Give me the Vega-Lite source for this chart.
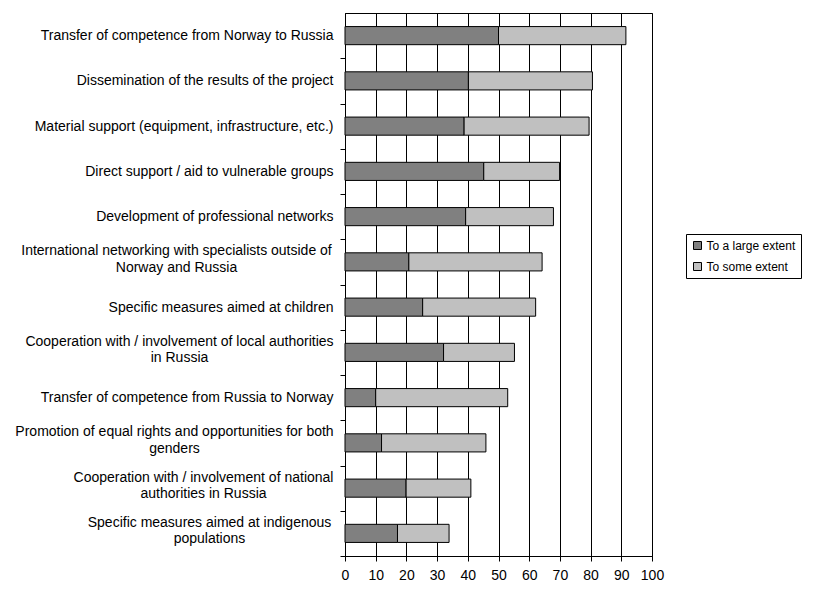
{
  "$schema": "https://vega.github.io/schema/vega-lite/v6.json",
  "width": 307,
  "height": 543,
  "autosize": {"type": "none"},
  "padding": {"left": 345, "top": 13, "right": 172, "bottom": 56},
  "background": "white",
  "data": {
    "values": [
      {"item": "Transfer of competence from Norway to Russia", "level": "To a large extent", "pct": 50.0},
      {"item": "Transfer of competence from Norway to Russia", "level": "To some extent", "pct": 41.5},
      {"item": "Dissemination of the results of the project", "level": "To a large extent", "pct": 40.2},
      {"item": "Dissemination of the results of the project", "level": "To some extent", "pct": 40.4},
      {"item": "Material support (equipment, infrastructure, etc.)", "level": "To a large extent", "pct": 38.8},
      {"item": "Material support (equipment, infrastructure, etc.)", "level": "To some extent", "pct": 40.7},
      {"item": "Direct support / aid to vulnerable groups", "level": "To a large extent", "pct": 45.2},
      {"item": "Direct support / aid to vulnerable groups", "level": "To some extent", "pct": 24.7},
      {"item": "Development of professional networks", "level": "To a large extent", "pct": 39.3},
      {"item": "Development of professional networks", "level": "To some extent", "pct": 28.6},
      {"item": "International networking with specialists outside of\nNorway and Russia", "level": "To a large extent", "pct": 20.8},
      {"item": "International networking with specialists outside of\nNorway and Russia", "level": "To some extent", "pct": 43.4},
      {"item": "Specific measures aimed at children", "level": "To a large extent", "pct": 25.3},
      {"item": "Specific measures aimed at children", "level": "To some extent", "pct": 36.8},
      {"item": "Cooperation with / involvement of local authorities\nin Russia", "level": "To a large extent", "pct": 32.1},
      {"item": "Cooperation with / involvement of local authorities\nin Russia", "level": "To some extent", "pct": 23.1},
      {"item": "Transfer of competence from Russia to Norway", "level": "To a large extent", "pct": 10.0},
      {"item": "Transfer of competence from Russia to Norway", "level": "To some extent", "pct": 43.0},
      {"item": "Promotion of equal rights and opportunities for both\ngenders", "level": "To a large extent", "pct": 11.9},
      {"item": "Promotion of equal rights and opportunities for both\ngenders", "level": "To some extent", "pct": 34.0},
      {"item": "Cooperation with / involvement of national\nauthorities in Russia", "level": "To a large extent", "pct": 19.9},
      {"item": "Cooperation with / involvement of national\nauthorities in Russia", "level": "To some extent", "pct": 21.1},
      {"item": "Specific measures aimed at indigenous\npopulations", "level": "To a large extent", "pct": 17.1},
      {"item": "Specific measures aimed at indigenous\npopulations", "level": "To some extent", "pct": 16.8}
    ]
  },
  "mark": {"type": "bar", "stroke": "black", "strokeWidth": 1},
  "encoding": {
    "y": {
      "field": "item",
      "type": "nominal",
      "sort": null,
      "scale": {"paddingInner": 0.6, "paddingOuter": 0.3},
      "axis": {
        "title": null,
        "labelExpr": "isString(datum.label) ? split(datum.label, '\\n') : ''",
        "labelFont": "Liberation Sans",
        "labelFontSize": 14,
        "labelColor": "black",
        "labelLimit": 500,
        "labelLineHeight": 16.5,
        "labelAlign": {
          "condition": {"test": "isString(datum.value) && indexof(datum.value, '\\n') >= 0", "value": "center"},
          "value": "right"
        },
        "labelPadding": {
          "condition": [
            {"test": "isString(datum.value) && indexof(datum.value, 'International') === 0", "value": 164},
            {"test": "isString(datum.value) && indexof(datum.value, 'Cooperation with / involvement of local') === 0", "value": 161},
            {"test": "isString(datum.value) && indexof(datum.value, 'Promotion') === 0", "value": 166},
            {"test": "isString(datum.value) && indexof(datum.value, 'Cooperation with / involvement of national') === 0", "value": 137},
            {"test": "isString(datum.value) && indexof(datum.value, 'Specific measures aimed at indigenous') === 0", "value": 131}
          ],
          "value": 7
        },
        "labelOffset": {
          "condition": {"test": "isString(datum.value) && indexof(datum.value, '\\n') >= 0", "value": -24.6},
          "value": -13.6
        },
        "bandPosition": 1,
        "tickOffset": 13.6,
        "tickSize": 5,
        "tickColor": "black",
        "domainColor": "black",
        "grid": false
      }
    },
    "x": {
      "field": "pct",
      "type": "quantitative",
      "stack": "zero",
      "scale": {"domain": [0, 100], "nice": false},
      "axis": {
        "title": null,
        "values": [0, 10, 20, 30, 40, 50, 60, 70, 80, 90, 100],
        "labelOverlap": false,
        "labelFlush": false,
        "grid": true,
        "gridColor": "black",
        "tickSize": 5,
        "tickColor": "black",
        "domainColor": "black",
        "labelFont": "Liberation Sans",
        "labelFontSize": 14,
        "labelColor": "black",
        "labelPadding": 7
      }
    },
    "color": {
      "field": "level",
      "type": "nominal",
      "scale": {"domain": ["To a large extent", "To some extent"], "range": ["#808080", "#C0C0C0"]},
      "legend": {
        "title": null,
        "orient": "none",
        "legendX": 341,
        "legendY": 221,
        "padding": 5.5,
        "strokeColor": "black",
        "fillColor": "white",
        "symbolType": "square",
        "symbolSize": 64,
        "symbolStrokeColor": "black",
        "symbolStrokeWidth": 1,
        "labelFont": "Liberation Sans",
        "labelFontSize": 12,
        "labelColor": "black",
        "labelOffset": 3,
        "rowPadding": 9
      }
    }
  },
  "config": {
    "view": {"stroke": "black", "strokeWidth": 1},
    "font": "Liberation Sans"
  }
}
